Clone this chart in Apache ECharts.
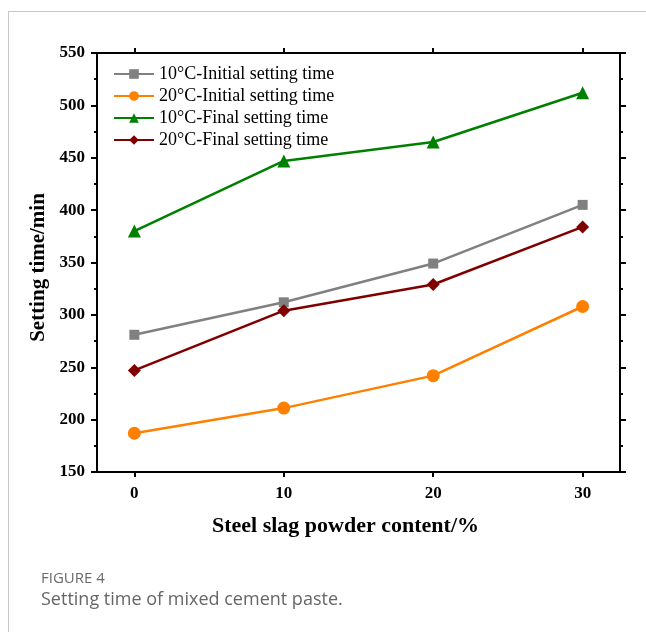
<!DOCTYPE html>
<html>
<head>
<meta charset="utf-8">
<script src="https://cdn.jsdelivr.net/npm/echarts@6/dist/echarts.min.js"></script>
<style>
  html, body { margin: 0; padding: 0; background: #fff; }
  #frame { position: absolute; left: 8px; top: 11px; width: 640px; height: 625px;
           border-top: 1px solid #c8c8c8; border-left: 1px solid #c8c8c8; }
  #chart { position: absolute; left: 0; top: 0; width: 646px; height: 632px; }
</style>
</head>
<body>
<div id="frame"></div>
<div id="chart"></div>
<script>
(function() {
  var content = [0, 10, 20, 30];
  var init10 = [281, 312, 349, 405];
  var init20 = [187, 211, 242, 308];
  var final10 = [380, 447, 465, 512];
  var final20 = [247, 304, 329, 384];
  var names = ['10°C-Initial setting time', '20°C-Initial setting time',
               '10°C-Final setting time', '20°C-Final setting time'];

  var serif = '"Liberation Serif", "Times New Roman", serif';

  function pairs(ys) {
    return content.map(function(x, i) { return [x, ys[i]]; });
  }

  function line(name, ys, color, symbol, size) {
    return {
      name: name,
      type: 'line',
      data: pairs(ys),
      symbol: symbol,
      symbolSize: size,
      xAxisIndex: 0,
      yAxisIndex: 0,
      lineStyle: { color: color, width: 2.5 },
      itemStyle: { color: color }
    };
  }

  var axisLine = { show: true, onZero: false, lineStyle: { color: '#000', width: 2 } };

  var chart = echarts.init(document.getElementById('chart'), null, { renderer: 'canvas' });
  chart.setOption({
    animation: false,
    grid: { left: 97, right: 26, top: 53, bottom: 160 },
    legend: {
      left: 108,
      top: 60,
      orient: 'vertical',
      itemWidth: 40,
      itemHeight: 12,
      itemGap: 4,
      textStyle: { fontFamily: serif, fontSize: 18, color: '#000' },
      data: names
    },
    xAxis: [{
      type: 'value',
      min: -2.5,
      max: 32.5,
      position: 'bottom',
      splitLine: { show: false },
      axisLine: axisLine,
      axisTick: { show: true, length: 5, lineStyle: { width: 2 }, customValues: content },
      axisLabel: { customValues: content, margin: 13, fontFamily: serif, fontWeight: 'bold', fontSize: 17, color: '#000' },
      name: 'Steel slag powder content/%',
      nameLocation: 'middle',
      nameGap: 43,
      nameTextStyle: { fontFamily: serif, fontWeight: 'bold', fontSize: 22, color: '#000', padding: [0, 26, 0, 0] }
    }, {
      type: 'value',
      min: -2.5,
      max: 32.5,
      position: 'top',
      splitLine: { show: false },
      axisLine: axisLine,
      axisTick: { show: true, length: 5, lineStyle: { width: 2 }, customValues: content },
      axisLabel: { show: false }
    }],
    yAxis: [{
      type: 'value',
      min: 150,
      max: 550,
      interval: 50,
      position: 'left',
      splitLine: { show: false },
      axisLine: axisLine,
      axisTick: { show: true, length: 6, lineStyle: { width: 2 } },
      minorTick: { show: true, splitNumber: 2, length: 3, lineStyle: { color: '#000', width: 2 } },
      axisLabel: { margin: 12, fontFamily: serif, fontWeight: 'bold', fontSize: 17, color: '#000' },
      name: 'Setting time/min',
      nameLocation: 'middle',
      nameGap: 48,
      nameTextStyle: { fontFamily: serif, fontWeight: 'bold', fontSize: 21, color: '#000', padding: [0, 10, 0, 0] }
    }, {
      type: 'value',
      min: 150,
      max: 550,
      interval: 50,
      position: 'right',
      splitLine: { show: false },
      axisLine: axisLine,
      axisTick: { show: true, length: 6, lineStyle: { width: 2 } },
      minorTick: { show: true, splitNumber: 2, length: 3, lineStyle: { color: '#000', width: 2 } },
      axisLabel: { show: false }
    }],
    graphic: [{
      type: 'text',
      left: 41,
      top: 571,
      style: { text: 'FIGURE 4', fontFamily: '"Open Sans", "Noto Sans", sans-serif', fontSize: 15, fill: '#6b6b6b' }
    }, {
      type: 'text',
      left: 41,
      top: 591,
      style: { text: 'Setting time of mixed cement paste.', fontFamily: '"Open Sans", "Noto Sans", sans-serif', fontSize: 18, fill: '#666' }
    }],
    series: [
      line(names[0], init10, '#808080', 'rect', 10),
      line(names[1], init20, '#ff8000', 'circle', 13),
      line(names[2], final10, '#008000', 'triangle', 13),
      line(names[3], final20, '#800000', 'diamond', 13)
    ]
  });
  window.addEventListener('resize', function() { chart.resize(); });
})();
</script>
</body>
</html>
